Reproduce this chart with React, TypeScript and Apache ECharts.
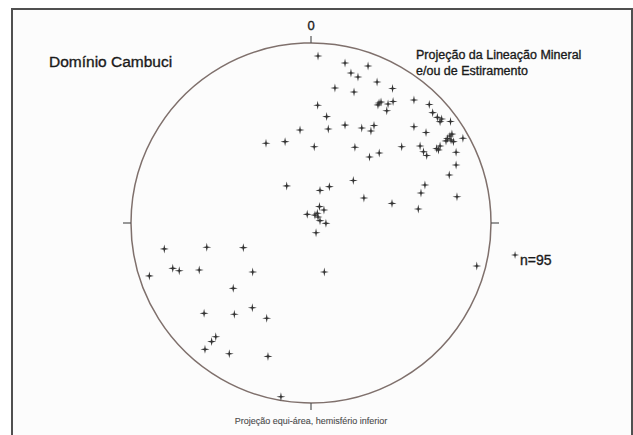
import React, { useEffect, useRef } from "react";
import * as echarts from "echarts";

// Lineation projections, east (x) and north (y) in % of the primitive circle radius
const eastPct = [
  3.9, 18.9, 31.7, 22.2, 26.1, 36.7, 13.3, 23.9, 45.3, 37.8,
  38.9, 42.8, 45.6, 42.1, 57.2, 65.7, 67.6, 70.2, 71.7, 72.6,
  77.5, 3.7, 8.7, 9.6, 18.9, 28.2, 35.0, 33.3, -6.1, -25.0,
  -14.4, 1.8, 24.4, 37.9, 32.5, 50.4, 57.2, 63.9, 60.6, 62.5,
  64.3, 69.8, 71.7, 70.8, 75.8, 77.2, 77.8, 75.0, 79.1, 84.4,
  80.6, 80.6, 76.8, 81.1, 63.3, 61.1, 59.6, 45.0, 29.4, 23.5,
  10.2, 5.0, -13.5, 4.7, 7.2, -2.1, 2.2, 3.5, 5.0, 8.3,
  2.8, 92.1, -81.5, -57.9, -37.6, -76.8, -73.2, -62.1, -89.8, -32.4,
  7.4, -43.2, -59.4, -42.6, -32.6, -24.6, -52.9, -55.2, -58.9, -45.4,
  -23.9, -16.7, 37.2, 78.3, 3.9,
];
const northPct = [
  92.8, 88.9, 87.2, 83.3, 81.1, 78.3, 75.0, 72.8, 74.7, 66.7,
  67.2, 66.1, 67.5, 62.4, 68.3, 65.8, 61.3, 58.7, 56.3, 57.8,
  56.4, 65.4, 59.1, 52.2, 54.4, 52.8, 54.2, 51.1, 51.7, 44.3,
  45.2, 42.4, 42.1, 38.9, 36.7, 42.4, 53.5, 50.3, 42.8, 39.6,
  37.5, 41.4, 42.8, 40.6, 46.9, 48.3, 46.1, 45.6, 45.2, 47.1,
  39.3, 32.2, 26.7, 14.6, 21.1, 16.7, 7.8, 10.9, 13.9, 23.6,
  20.2, 18.1, 20.6, 9.1, 7.2, 4.8, 4.4, 5.4, 1.3, -0.2,
  -5.4, -23.9, -14.4, -13.5, -13.7, -25.2, -26.5, -26.1, -29.4, -27.2,
  -27.2, -36.3, -50.2, -50.7, -47.1, -52.9, -63.2, -65.9, -70.2, -72.6,
  -74.1, -96.5, 65.6, 49.4, 3.3,
];

const titleLeft = "Domínio Cambuci";
const titleRight = ["Projeção da Lineação Mineral", "e/ou de Estiramento"];
const northLabel = "0";
const countLabel = "n=95";
const footer = "Projeção equi-área, hemisfério inferior";

const FONT = "'Liberation Sans', Arial, Helvetica, sans-serif";
const CX = 311;
const CY = 223;
const R = 180;
const PLUS =
  "path://M4.5,0 L5.3,3.7 L9,4.5 L5.3,5.3 L4.5,9 L3.7,5.3 L0,4.5 L3.7,3.7 Z";
const PLUS_D =
  "M4.5,0 L5.3,3.7 L9,4.5 L5.3,5.3 L4.5,9 L3.7,5.3 L0,4.5 L3.7,3.7 Z";

export default function App() {
  const ref = useRef<HTMLDivElement>(null);
  useEffect(() => {
    if (!ref.current) return;
    try {
      echarts.graphic.registerShape("plusmark", echarts.graphic.extendPath(PLUS_D, {}));
    } catch (e) {}
    const chart = echarts.init(ref.current, null, { renderer: "svg" });
    const data = eastPct.map((x, i) => [x, northPct[i]]);
    const txt = (text: string, x: number, y: number, size: number, align: string, fill = "#1a1a1a", stroke = 0.35) => ({
      type: "text",
      x,
      y,
      style: {
        text,
        fontFamily: FONT,
        fontSize: size,
        fill,
        stroke: fill,
        lineWidth: stroke,
        align,
        verticalAlign: "middle",
      },
    });
    chart.setOption({
      animation: false,
      backgroundColor: "#ffffff",
      grid: { left: CX - R, top: CY - R, width: 2 * R, height: 2 * R },
      xAxis: { type: "value", min: -100, max: 100, show: false },
      yAxis: { type: "value", min: -100, max: 100, show: false },
      graphic: [
        {
          type: "rect",
          z: -10,
          shape: { x: 12, y: 9, width: 620, height: 500 },
          style: { fill: "#fcfcfc", stroke: "#505050", lineWidth: 2 },
        },
        {
          type: "circle",
          shape: { cx: CX, cy: CY, r: R },
          style: { fill: "none", stroke: "#7f706c", lineWidth: 1.5 },
        },
        { type: "line", shape: { x1: CX, y1: CY - R - 7, x2: CX, y2: CY - R }, style: { stroke: "#555", lineWidth: 1.2 } },
        { type: "line", shape: { x1: CX, y1: CY + R, x2: CX, y2: CY + R + 7 }, style: { stroke: "#555", lineWidth: 1.2 } },
        { type: "line", shape: { x1: CX - R - 8, y1: CY, x2: CX - R, y2: CY }, style: { stroke: "#555", lineWidth: 1.2 } },
        { type: "line", shape: { x1: CX + R, y1: CY, x2: CX + R + 8, y2: CY }, style: { stroke: "#555", lineWidth: 1.2 } },
        txt(northLabel, CX, 25, 13, "center"),
        txt(titleLeft, 49, 61, 15.5, "left"),
        txt(titleRight[0], 416, 55, 12.5, "left"),
        txt(titleRight[1], 416, 71, 12.5, "left"),
        {
          type: "plusmark",
          x: 511,
          y: 251,
          scaleX: 0.9,
          scaleY: 0.9,
          style: { fill: "#333" },
        },
        txt(countLabel, 520, 260, 14, "left"),
        txt(footer, CX, 421, 9, "center", "#4a4a4a", 0.1),
      ],
      series: [
        {
          type: "scatter",
          data,
          symbol: PLUS,
          symbolSize: 9,
          itemStyle: { color: "#333333", opacity: 1 },
          emphasis: { disabled: true },
        },
      ],
    });
    return () => chart.dispose();
  }, []);
  return (
    <div
      ref={ref}
      style={{ position: "fixed", left: 0, top: 0, width: 633, height: 435 }}
    />
  );
}
